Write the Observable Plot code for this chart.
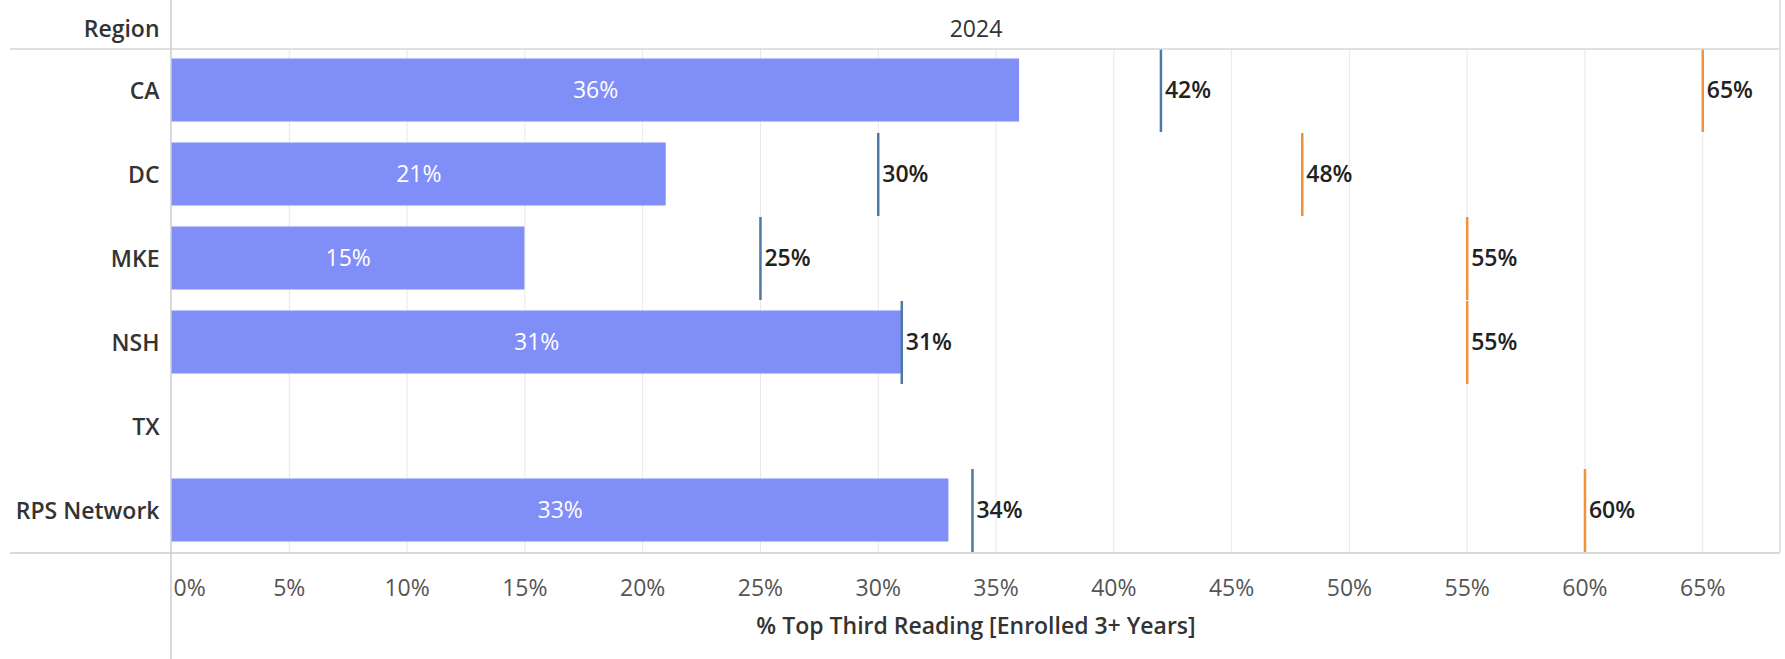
<!DOCTYPE html>
<html>
<head>
<meta charset="utf-8">
<script src="https://cdn.jsdelivr.net/npm/d3@7"></script>
<script src="https://cdn.jsdelivr.net/npm/@observablehq/plot@0.6"></script>
<style>
  html, body { margin: 0; padding: 0; background: #fff; }
  #chart svg { display: block; }
</style>
</head>
<body>
<div id="chart"></div>
<script>
// ---- data ----
const regions = ["CA", "DC", "MKE", "NSH", "TX", "RPS Network"];
const actualPct = [36, 21, 15, 31, null, 33];
const bluePct = [42, 30, 25, 31, null, 34];
const orangePct = [65, 48, 55, 55, null, 60];
const xTicks = [0, 5, 10, 15, 20, 25, 30, 35, 40, 45, 50, 55, 60, 65];
const columnHeader = "2024";
const rowHeader = "Region";
const xTitle = "% Top Third Reading [Enrolled 3+ Years]";

const rows = regions.map((r, i) => ({region: r, actual: actualPct[i], blue: bluePct[i], orange: orangePct[i]}));
const barRows = rows.filter(d => d.actual != null);
const blueRows = rows.filter(d => d.blue != null);
const orangeRows = rows.filter(d => d.orange != null);

const W = 1785, H = 659;
const mL = 171, mR = 5, mT = 49, mB = 106;
const FONT = "'Open Sans', 'Noto Sans', sans-serif";
const FS = 23;

const chart = Plot.plot({
  width: W,
  height: H,
  marginLeft: mL,
  marginRight: mR,
  marginTop: mT,
  marginBottom: mB,
  style: {fontFamily: FONT, background: "#fff", overflow: "visible"},
  x: {domain: [0, 68.3], axis: null},
  y: {type: "band", domain: regions, padding: 0, axis: null},
  marks: [
    Plot.gridX(xTicks.slice(1), {stroke: "#e8e8e8", strokeOpacity: 1, strokeWidth: 1}),
    Plot.barX(barRows, {x: "actual", y: "region", fill: "#808ef8", insetTop: 9.5, insetBottom: 11.5}),
    Plot.text(barRows, {x: d => d.actual / 2, y: "region", text: d => d.actual + "%", fill: "#fff", fontSize: FS, dy: -1}),
    Plot.tickX(blueRows, {x: "blue", y: "region", stroke: "#4e79a7", strokeWidth: 2.5, insetBottom: 1}),
    Plot.tickX(orangeRows, {x: "orange", y: "region", stroke: "#f0923a", strokeWidth: 2.5, insetBottom: 1}),
    Plot.text(blueRows, {x: "blue", y: "region", text: d => d.blue + "%", textAnchor: "start", dx: 4, dy: -1, fill: "#222", fontSize: FS, fontWeight: 600}),
    Plot.text(orangeRows, {x: "orange", y: "region", text: d => d.orange + "%", textAnchor: "start", dx: 4, dy: -1, fill: "#222", fontSize: FS, fontWeight: 600}),
    Plot.axisY({tickSize: 0, tickPadding: 12, fontSize: FS, fontWeight: 600, fill: "#333", label: null}),
    Plot.axisX(xTicks.slice(1), {tickSize: 0, tickPadding: 26, tickFormat: d => d + "%", fontSize: FS, fill: "#555", label: null}),
    Plot.axisX([0], {tickSize: 0, tickPadding: 26, tickFormat: d => d + "%", textAnchor: "start", dx: 2, fontSize: FS, fill: "#555", label: null}),
    Plot.text([xTitle], {frameAnchor: "bottom", text: d => d, dy: 80, fontSize: FS, fontWeight: 600, fill: "#333"}),
    Plot.text([columnHeader], {frameAnchor: "top", text: d => d, dy: -29, fontSize: FS, fill: "#333"}),
    Plot.text([rowHeader], {frameAnchor: "top-left", text: d => d, dx: -12, dy: -29, textAnchor: "end", fontSize: FS, fontWeight: 600, fill: "#333"})
  ]
});

// table-style border lines (Tableau pane lines)
const svg = d3.select(chart);
const lines = [
  {x1: 10, x2: W - mR, y1: mT, y2: mT, c: "#d6d6d6"},
  {x1: 10, x2: W - mR, y1: H - mB, y2: H - mB, c: "#cccccc"},
  {x1: mL, x2: mL, y1: 0, y2: H, c: "#cccccc"},
  {x1: W - mR, x2: W - mR, y1: 0, y2: H - mB, c: "#dddddd"}
];
svg.append("g").selectAll("line").data(lines).join("line")
  .attr("x1", d => d.x1).attr("x2", d => d.x2)
  .attr("y1", d => d.y1).attr("y2", d => d.y2)
  .attr("stroke", d => d.c).attr("stroke-width", 1.5);

document.getElementById("chart").appendChild(chart);
</script>
</body>
</html>
